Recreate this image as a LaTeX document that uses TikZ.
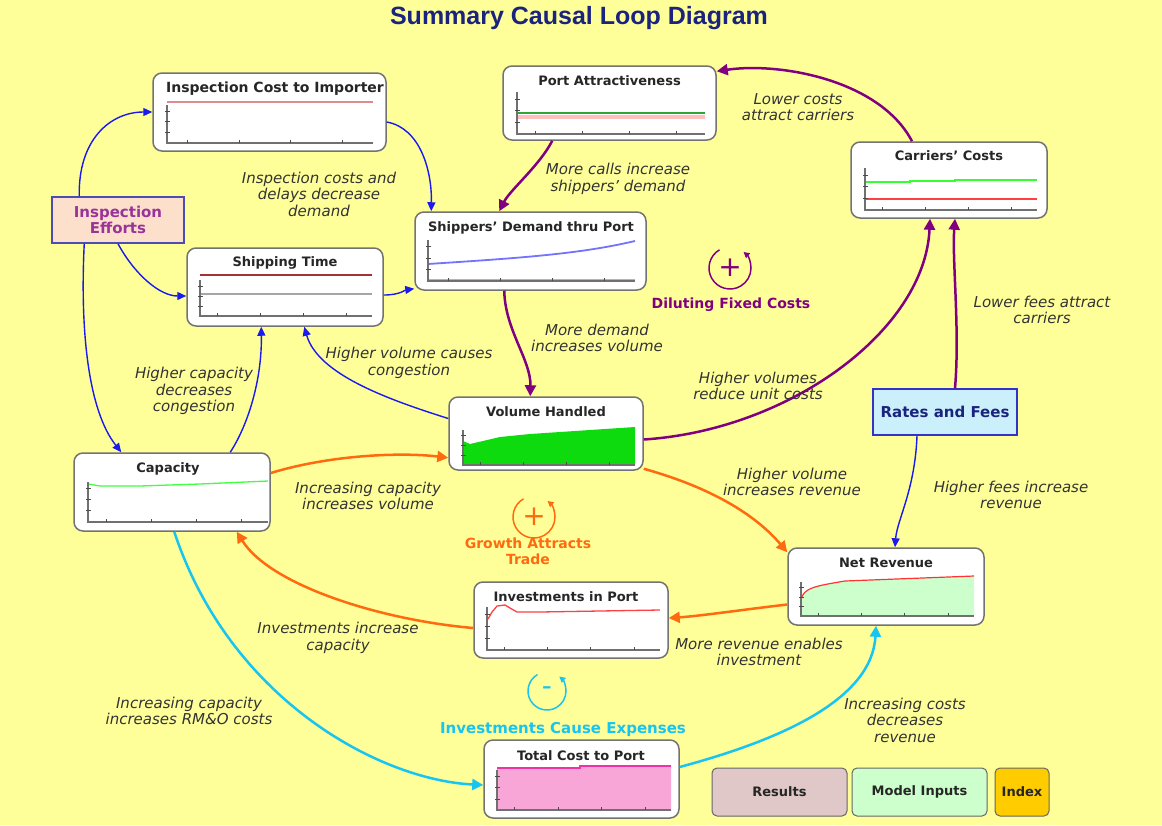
\documentclass[tikz,border=0pt]{standalone}
\usepackage{fontspec}
\setmainfont{DejaVu Sans}
\newfontfamily\titlefont{Liberation Sans}
\usetikzlibrary{arrows.meta,calc}
\definecolor{bg}{HTML}{FFFF99}
\definecolor{navy}{HTML}{1A237E}
\definecolor{lbl}{HTML}{333333}
\definecolor{cblue}{HTML}{1A1AEE}
\definecolor{cpurple}{HTML}{800080}
\definecolor{corange}{HTML}{FF6A10}
\definecolor{ccyan}{HTML}{18C4F0}
\definecolor{peach}{HTML}{FCE0CC}
\definecolor{iepurple}{HTML}{993399}
\definecolor{btnres}{HTML}{E0C8C8}
\definecolor{btnmi}{HTML}{CCFFCC}
\definecolor{btnidx}{HTML}{FFCC00}
\definecolor{axisc}{HTML}{707070}
\newcommand\chartax[4]{%
  \draw[axisc, line width=1.3pt] (#1,#2) -- (#1,#4) -- (#3,#4);
  \foreach \i in {1,2,3,4} \draw[black!70, line width=0.8pt] ({#1+(\i-0.6)*(#3-#1)/4},#4) -- ++(0,-3);
  \foreach \j in {1,2,3} \draw[black!70, line width=0.8pt] ({#1-2},{#4-\j*(#4-#2)/3.6}) -- ++(5,0);
}
\tikzset{
  gbox/.style={draw=black!55, line width=1.5pt, rounded corners=9pt, fill=white, inner sep=0pt},
  gtitle/.style={font=\bfseries\fontsize{13}{15}\selectfont, text=black!85, inner sep=0pt},
  lab/.style={font=\itshape\fontsize{15}{16.5}\selectfont, text=lbl, align=center, inner sep=0pt},
  barr/.style={draw=cblue, line width=1.4pt, -{Triangle[length=9pt,width=8pt]}},
  parr/.style={draw=cpurple, line width=2.5pt, -{Triangle[length=11pt,width=11pt]}},
  oarr/.style={draw=corange, line width=2.5pt, -{Triangle[length=11pt,width=11pt]}},
  carr/.style={draw=ccyan, line width=2.5pt, -{Triangle[length=11pt,width=11pt]}},
  btn/.style={draw=black!60, line width=1pt, rounded corners=5pt, minimum height=48pt, font=\bfseries\fontsize{13}{15}\selectfont, text=black!85},
  loopsign/.style={font=\fontsize{28}{28}\selectfont, inner sep=0pt},
  looplab/.style={font=\bfseries\fontsize{14}{16}\selectfont, align=center, inner sep=0pt},
}
\begin{document}
\begin{tikzpicture}[x=1pt,y=-1pt]
\useasboundingbox (0,0) rectangle (1162,825);
\fill[bg] (0,0) rectangle (1162,825);

% title
\node[font=\titlefont\bfseries\fontsize{25}{27}\selectfont, text=navy] (title) at (579,18) {Summary Causal Loop Diagram};

% graph boxes
\node[gbox, minimum width=233pt, minimum height=78pt] (ici) at (269.5,112) {};
\node[gbox, minimum width=213pt, minimum height=74pt] (pa) at (609.5,103) {};
\node[gbox, minimum width=196pt, minimum height=76pt] (cc) at (949,180) {};
\node[gbox, minimum width=231pt, minimum height=78pt] (sd) at (530.5,251) {};
\node[gbox, minimum width=196pt, minimum height=78pt] (st) at (285,287) {};
\node[gbox, minimum width=194pt, minimum height=73pt] (vh) at (546,433.5) {};
\node[gbox, minimum width=196pt, minimum height=78pt] (cap) at (172,492) {};
\node[gbox, minimum width=196pt, minimum height=77pt] (nr) at (886,586.5) {};
\node[gbox, minimum width=194pt, minimum height=76pt] (ip) at (571,620) {};
\node[gbox, minimum width=195pt, minimum height=78pt] (tc) at (581.5,779) {};

% titles
\begin{scope}
\clip (160,75) rectangle (385,100);
\node[gtitle, anchor=west, font=\bfseries\fontsize{14}{16}\selectfont] (icit) at (166,89) {Inspection Cost to Importer};
\end{scope}
\node[gtitle] (pat) at (609.5,81) {Port Attractiveness};
\node[gtitle] (cct) at (949,156) {Carriers' Costs};
\node[gtitle] (sdt) at (531,228) {Shippers' Demand thru Port};
\node[gtitle] (stt) at (285,263) {Shipping Time};
\node[gtitle] (vht) at (546,412) {Volume Handled};
\node[gtitle] (capt) at (168,469) {Capacity};
\node[gtitle] (nrt) at (886,563) {Net Revenue};
\node[gtitle] (ipt) at (566,597) {Investments in Port};
\node[gtitle] (tct) at (581,756) {Total Cost to Port};

% chart contents
\draw[red!35!white!85!black, line width=2pt] (167,102) -- (373,102);
\chartax{167}{105}{373}{143}
\draw[red!25, line width=4pt] (517,117) -- (705,117);
\draw[green!55!black!80, line width=1.5pt] (517,113) -- (705,113);
\chartax{517}{92}{705}{134}
\draw[green!80!white, line width=2pt] (865,182) -- (910,182) -- (910,181) -- (955,181) -- (955,180) -- (1037,180);
\draw[red!75, line width=1.2pt] (865,199) -- (1037,199);
\chartax{865}{168}{1037}{210}
\draw[blue!55, line width=1.8pt] (428,264) .. controls (520,258) and (580,254) .. (635,241);
\draw[green!70, line width=2.5pt] (428,280) -- (635,280);
\chartax{428}{240}{635}{281}
\draw[red!55!black!80, line width=1.3pt] (200,275) -- (372,275);
\draw[black!35, line width=1.3pt] (200,294) -- (372,294);
\chartax{200}{280}{372}{316}
\fill[green!85!black!95] (463,465) -- (463,441) -- (470,444) -- (500,437) -- (530,434) -- (635,427) -- (635,465) -- cycle;
\chartax{463}{430}{635}{465}
\draw[green!75, line width=1.3pt] (88,484) -- (100,486) -- (140,486) -- (200,484) -- (268,481);
\chartax{88}{482}{268}{522}
\fill[green!20] (801,616) -- (801,600) .. controls (803,588) and (815,586) .. (845,581) -- (974,576) -- (974,616) -- cycle;
\draw[red!80, line width=1.2pt] (801,600) .. controls (803,588) and (815,586) .. (845,581) -- (974,576);
\chartax{801}{582}{974}{616}
\draw[red!75, line width=1.3pt] (488,619) -- (492,612) -- (497,606) -- (505,605) -- (510,608) -- (517,612) -- (540,612) -- (660,610);
\chartax{487}{607}{660}{650}
\fill[magenta!35] (497,810) -- (497,768) -- (580,768) -- (580,766) -- (671,766) -- (671,810) -- cycle;
\draw[magenta!80, line width=1.2pt] (497,768) -- (580,768) -- (580,766) -- (671,766);
\chartax{497}{770}{671}{810}

% rectangles
\node[draw=blue!40!gray, line width=1.5pt, fill=peach, minimum width=132pt, minimum height=46pt, font=\bfseries\fontsize{15}{16.5}\selectfont, text=iepurple, align=center, inner sep=0pt] (ie) at (118,220) {Inspection\\Efforts};
\node[draw=blue!60!gray, line width=1.5pt, fill=cyan!20, minimum width=144pt, minimum height=46pt, font=\bfseries\fontsize{15}{17}\selectfont, text=navy, inner sep=0pt] (rf) at (945,412) {Rates and Fees};

% buttons
\node[btn, fill=btnres, minimum width=135pt] (res) at (779.5,792) {Results};
\node[btn, fill=btnmi, minimum width=135pt] (mi) at (919.5,792) {Model Inputs};
\node[btn, fill=btnidx, minimum width=54pt] (idx) at (1022,792) {Index};

% blue arrows
\draw[barr] ($(ie.north west)+(28,0)$) .. controls (78,140) and (110,112) .. (ici.west);
\draw[barr] ($(ici.east)+(0,10)$) .. controls (420,128) and (432,170) .. ($(sd.north west)+(17,0)$);
\draw[barr] (ie.south) .. controls (135,275) and (160,296) .. ($(st.west)+(0,9)$);
\draw[barr] ($(ie.south west)+(33,0)$) .. controls (80,330) and (88,410) .. ($(cap.north west)+(48,0)$);
\draw[barr] ($(st.east)+(0,8)$) .. controls (400,295) and (405,290) .. ($(sd.south west)+(0,-2)$);
\draw[barr] ($(cap.north west)+(157,0)$) .. controls (248,425) and (262,380) .. ($(st.south west)+(75,0)$);
\draw[barr] ($(vh.west)+(0,-15)$) .. controls (390,400) and (318,375) .. ($(st.south west)+(118,0)$);
\draw[barr] ($(rf.south)+(-28,0)$) .. controls (915,490) and (897,520) .. ($(nr.north)+(9,0)$);

% purple arrows
\draw[parr] ($(cc.north)+(-37,0)$) .. controls (880,80) and (780,62) .. ($(pa.north east)+(0,6)$);
\draw[parr] ($(pa.south west)+(50,0)$) .. controls (540,165) and (510,190) .. ($(sd.north west)+(85,0)$);
\draw[parr] ($(sd.south west)+(90,0)$) .. controls (505,330) and (531,360) .. ($(vh.north west)+(82,0)$);
\draw[parr] ($(vh.east)+(0,6)$) .. controls (790,430) and (925,330) .. ($(cc.south)+(-19,0)$);
\draw[parr] ($(rf.north)+(10,0)$) .. controls (960,330) and (952,260) .. ($(cc.south)+(6,0)$);

% orange arrows
\draw[oarr] ($(cap.east)+(0,-19)$) .. controls (330,455) and (400,452) .. ($(vh.south west)+(0,-13)$);
\draw[oarr] ($(vh.south east)+(0,-2)$) .. controls (720,490) and (760,520) .. ($(nr.north west)+(0,5)$);
\draw[oarr] ($(nr.west)+(0,18)$) .. controls (740,610) and (700,616) .. ($(ip.east)+(0,-2)$);
\draw[oarr] ($(ip.west)+(0,8)$) .. controls (380,620) and (270,585) .. ($(cap.south east)+(-34,0)$);

% cyan arrows
\draw[carr] ($(cap.south west)+(101,0)$) .. controls (230,700) and (380,780) .. ($(tc.west)+(0,6)$);
\draw[carr] ($(tc.east)+(0,-12)$) .. controls (780,740) and (872,700) .. ($(nr.south)+(-10,0)$);

% loop markers
\coordinate (dilc) at (730,268);
\draw[cpurple, line width=1.5pt, -{Triangle[length=6pt,width=6pt]}] ([shift={(240:21)}]dilc) arc[start angle=240, end angle=-50, radius=21];
\node[loopsign, text=cpurple] (dils) at (dilc) {+};
\node[looplab, text=cpurple] (dill) at (731,305) {Diluting Fixed Costs};

\coordinate (grc) at (534,517);
\draw[corange, line width=1.5pt, -{Triangle[length=6pt,width=6pt]}] ([shift={(240:21)}]grc) arc[start angle=240, end angle=-50, radius=21];
\node[loopsign, text=corange] (grs) at (grc) {+};
\node[looplab, text=corange] (grl) at (528,551) {Growth Attracts\\Trade};

\coordinate (inc) at (547,691);
\draw[ccyan, line width=1.5pt, -{Triangle[length=6pt,width=6pt]}] ([shift={(240:19)}]inc) arc[start angle=240, end angle=-50, radius=19];
\node[loopsign, text=ccyan] (ins) at (inc) {-};
\node[looplab, text=ccyan, font=\bfseries\fontsize{15}{17}\selectfont] (inl) at (563,729) {Investments Cause Expenses};

% labels
\node[lab] (l1) at (319,194) {Inspection costs and\\delays decrease\\demand};
\node[lab] (l2) at (618,179) {More calls increase\\shippers' demand};
\node[lab] (l3) at (798,107) {Lower costs\\attract carriers};
\node[lab] (l4) at (1042,310) {Lower fees attract\\carriers};
\node[lab] (l5) at (597,338) {More demand\\increases volume};
\node[lab] (l6) at (409,363) {Higher volume causes\\congestion};
\node[lab] (l7) at (194,391) {Higher capacity\\decreases\\congestion};
\node[lab] (l8) at (758,386) {Higher volumes\\reduce unit costs};
\node[lab] (l9) at (792,482) {Higher volume\\increases revenue};
\node[lab] (l10) at (1011,495) {Higher fees increase\\revenue};
\node[lab] (l11) at (368,496) {Increasing capacity\\increases volume};
\node[lab] (l12) at (338,638) {Investments increase\\capacity};
\node[lab] (l13) at (759,652) {More revenue enables\\investment};
\node[lab] (l14) at (189,711) {Increasing capacity\\increases RM\&O costs};
\node[lab] (l15) at (905,720) {Increasing costs\\decreases\\revenue};
\end{tikzpicture}
\end{document}
